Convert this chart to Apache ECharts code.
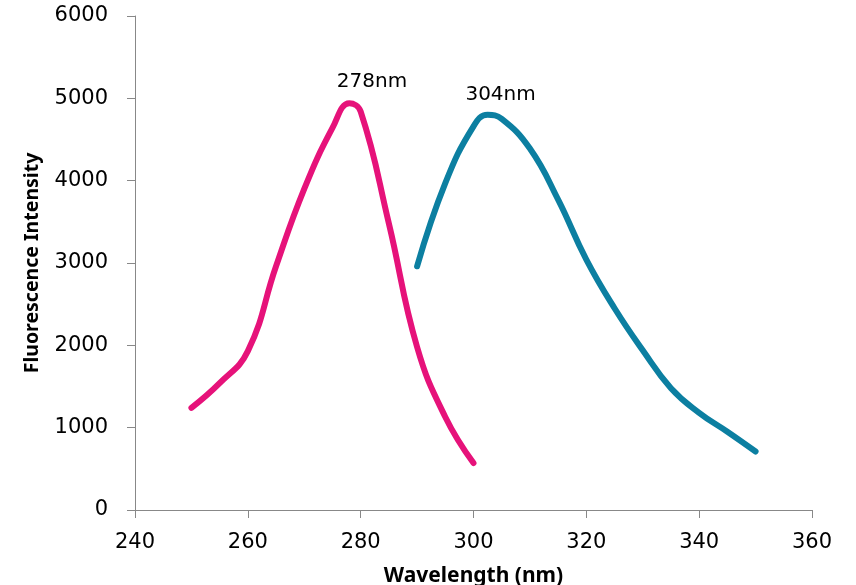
<!DOCTYPE html>
<html>
<head>
<meta charset="utf-8">
<script src="https://cdn.jsdelivr.net/npm/echarts@6/dist/echarts.min.js"></script>
<style>html,body{margin:0;padding:0;background:#fff}#c{width:856px;height:585px}</style>
</head>
<body>
<div id="c"></div>
<script>
// Excitation spectrum (pink)
const excWavelength = [250, 255, 260, 265, 270, 275, 278, 280, 285, 290, 295, 300];
const excIntensity  = [1240, 1540, 1930, 2960, 3900, 4640, 4940, 4840, 3480, 1980, 1130, 570];
// Emission spectrum (teal)
const emWavelength = [290, 295, 300, 302.5, 305, 310, 315, 320, 325, 330, 335, 340, 345, 350];
const emIntensity  = [2960, 3970, 4660, 4800, 4750, 4390, 3770, 3040, 2450, 1940, 1480, 1180, 950, 710];
// Peak annotations
const peakLabels = ['278nm', '304nm'];
const peakX = [282, 304.8];
const peakY = [5200, 5040];
const xTicks = [240, 260, 280, 300, 320, 340, 360];
const yTicks = [0, 1000, 2000, 3000, 4000, 5000, 6000];

const zip = (xs, ys) => xs.map((x, i) => [x, ys[i]]);
const chart = echarts.init(document.getElementById('c'));
const axisFont = { fontFamily: 'DejaVu Sans', fontSize: 21, color: '#000' };
chart.setOption({
  animation: false,
  grid: { left: 135, right: 44, top: 16, bottom: 75, containLabel: false, outerBoundsMode: 'none' },
  xAxis: {
    type: 'value', min: xTicks[0], max: xTicks[xTicks.length - 1], interval: 20,
    name: 'Wavelength (nm)', nameLocation: 'middle', nameGap: 56,
    nameTextStyle: { fontFamily: 'Noto Sans', fontWeight: 'bold', fontSize: 21, color: '#000' },
    axisLine: { lineStyle: { color: '#888', width: 1 } },
    axisTick: { show: true, length: 8, inside: false, lineStyle: { color: '#888' } },
    axisLabel: Object.assign({ margin: 22, formatter: v => String(v) }, axisFont),
    splitLine: { show: false }
  },
  yAxis: {
    type: 'value', min: yTicks[0], max: yTicks[yTicks.length - 1], interval: 1000,
    name: 'Fluorescence Intensity', nameLocation: 'middle', nameGap: 93,
    nameTextStyle: { fontFamily: 'Noto Sans', fontWeight: 'bold', fontSize: 19.5, color: '#000' },
    axisLine: { show: true, lineStyle: { color: '#888', width: 1 } },
    axisTick: { show: true, length: 8, lineStyle: { color: '#888' } },
    axisLabel: Object.assign({ margin: 27, formatter: v => String(v) }, axisFont),
    splitLine: { show: false }
  },
  series: [
    {
      type: 'line', data: zip(excWavelength, excIntensity), smooth: 0.45,
      showSymbol: false, lineStyle: { color: '#E6127A', width: 6, cap: 'round', join: 'round' }, itemStyle: { color: '#E6127A' }
    },
    {
      type: 'line', data: zip(emWavelength, emIntensity), smooth: 0.45,
      showSymbol: false, lineStyle: { color: '#0C7FA1', width: 6, cap: 'round', join: 'round' }, itemStyle: { color: '#0C7FA1' }
    },
    {
      type: 'scatter', data: peakX.map((x, i) => ({ value: [x, peakY[i]], name: peakLabels[i] })),
      symbolSize: 0, silent: true, itemStyle: { opacity: 1 },
      label: { show: true, position: 'inside', formatter: p => p.name, fontFamily: 'DejaVu Sans', fontSize: 20, color: '#000', opacity: 1 }
    }
  ]
});
</script>
</body>
</html>
